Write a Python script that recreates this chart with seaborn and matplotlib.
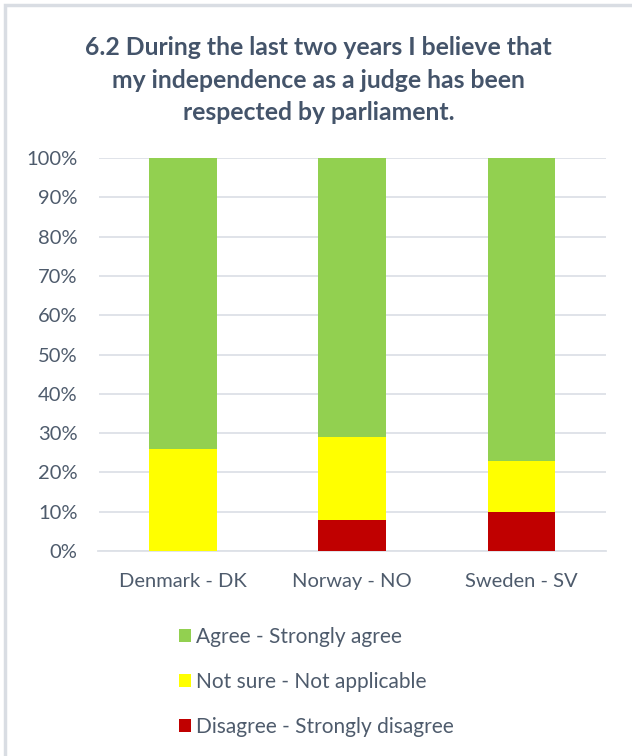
import matplotlib
matplotlib.use("Agg")
import matplotlib.pyplot as plt
from matplotlib.patches import Patch, Rectangle
import pandas as pd
import seaborn as sns

countries = ["Denmark - DK", "Norway - NO", "Sweden - SV"]
disagree = [0, 8, 10]
not_sure = [26, 21, 13]
agree = [74, 71, 77]

series_names = ["Agree - Strongly agree", "Not sure - Not applicable",
                "Disagree - Strongly disagree"]
colors = {"Agree - Strongly agree": "#92D050",
          "Not sure - Not applicable": "#FFFF00",
          "Disagree - Strongly disagree": "#C00000"}

text_color = "#4E5B6C"
title_color = "#44546A"
grid_color = "#DDE1E7"

sns.set_theme(style="white")
plt.rcParams["font.family"] = ["Lato", "DejaVu Sans"]

df = pd.DataFrame({"country": countries, "disagree": disagree,
                   "not_sure": not_sure, "agree": agree})
# cumulative heights for stacking (drawn tallest first, then overdrawn)
df["top_red"] = df["disagree"]
df["top_yellow"] = df["disagree"] + df["not_sure"]
df["top_green"] = df["top_yellow"] + df["agree"]

fig = plt.figure(figsize=(6.32, 7.56), dpi=100)
fig.patch.set_facecolor("white")
# chart-area border
fig.add_artist(Rectangle((5 / 632, -0.05), 1.2, 1 - 5 / 756 + 0.05,
                         transform=fig.transFigure, fill=False,
                         edgecolor="#D9DDE3", linewidth=2.5))

ax = fig.add_axes([98.5 / 632, 205 / 756, 606 / 632 - 98.5 / 632, 393 / 756])

for col, name in [("top_green", series_names[0]),
                  ("top_yellow", series_names[1]),
                  ("top_red", series_names[2])]:
    sns.barplot(data=df, x="country", y=col, color=colors[name],
                saturation=1, width=0.4, linewidth=0, ax=ax, zorder=3)

ax.set_ylim(0, 100)
ax.set_xlim(-0.5, 2.5)
ax.set_yticks(range(0, 101, 10))
ax.set_yticklabels([f"{v}%" for v in range(0, 101, 10)])
ax.set_xlabel("")
ax.set_ylabel("")
ax.yaxis.grid(True, color=grid_color, linewidth=1.3, zorder=0)
ax.set_axisbelow(True)
for s in ["top", "right", "left"]:
    ax.spines[s].set_visible(False)
ax.spines["bottom"].set_color(grid_color)
ax.spines["bottom"].set_linewidth(1.3)
ax.tick_params(axis="both", length=0, colors=text_color, labelsize=14.5)
ax.tick_params(axis="y", pad=15)
ax.tick_params(axis="x", pad=16)

fig.text(318.5 / 632, 1 - 80 / 756,
         "6.2 During the last two years I believe that\n"
         "my independence as a judge has been\n"
         "respected by parliament.",
         ha="center", va="center", fontsize=17.8, fontweight="bold",
         color=title_color, linespacing=1.48)

handles = [Patch(facecolor=colors[n], edgecolor="none") for n in series_names]
leg = fig.legend(handles, series_names, loc="upper left",
                 bbox_to_anchor=(160 / 632, 1 - 608 / 756), frameon=False,
                 fontsize=15, handlelength=0.6, handleheight=0.6,
                 handletextpad=0.22, labelspacing=1.2, labelcolor=text_color)

fig.savefig("out.png", dpi=100, facecolor="white")
